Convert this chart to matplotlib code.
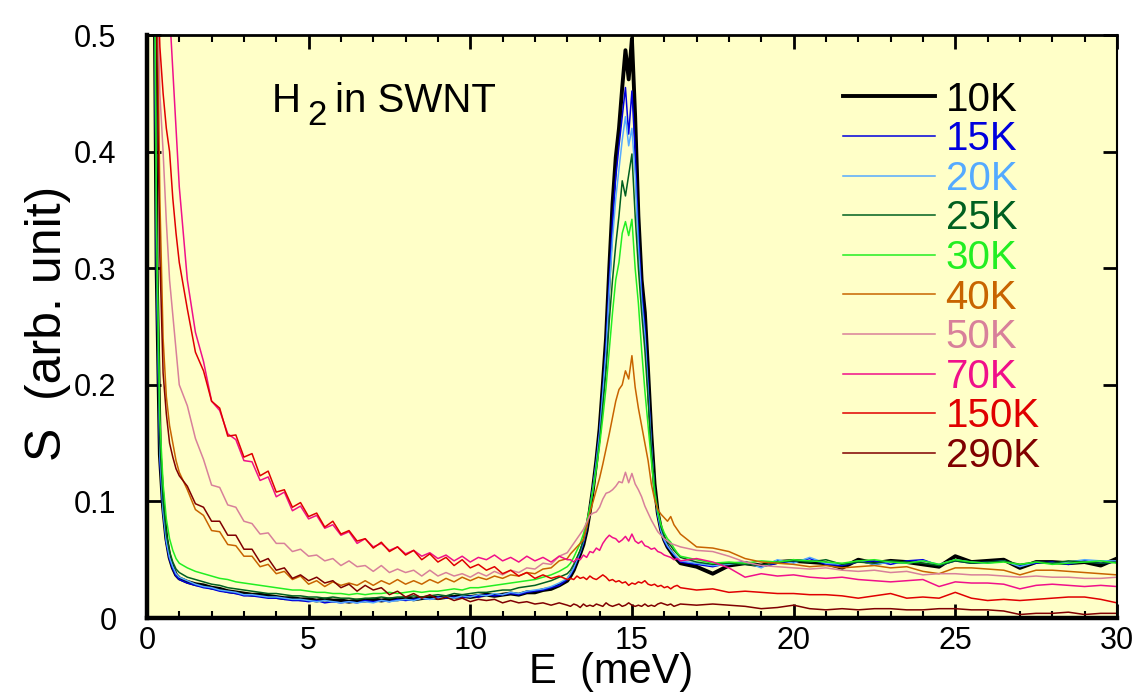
import matplotlib
matplotlib.use('Agg')
import matplotlib.pyplot as plt
from matplotlib.ticker import MultipleLocator, FuncFormatter

plt.rcParams['font.family'] = ['Liberation Sans', 'DejaVu Sans']

# energy grid (meV)
energy = [0.1, 0.2, 0.3, 0.4, 0.5, 0.6, 0.7, 0.8, 0.9, 1.0,
          1.25, 1.5, 1.75, 2.0, 2.25, 2.5, 2.75, 3.0, 3.25, 3.5, 3.75, 4.0,
          4.25, 4.5, 4.75, 5.0, 5.25, 5.5, 5.75, 6.0, 6.25, 6.5, 6.75, 7.0,
          7.25, 7.5, 7.75, 8.0, 8.25, 8.5, 8.75, 9.0, 9.25, 9.5, 9.75, 10.0,
          10.25, 10.5, 10.75, 11.0, 11.25, 11.5, 11.75, 12.0, 12.25, 12.5, 12.75, 13.0,
          13.1, 13.2, 13.3, 13.4, 13.5, 13.6, 13.7, 13.8, 13.9, 14.0,
          14.1, 14.2, 14.3, 14.4, 14.5, 14.6, 14.7, 14.8, 14.9, 15.0,
          15.1, 15.2, 15.3, 15.4, 15.5, 15.6, 15.7, 15.8, 15.9, 16.0, 16.1, 16.2, 16.3, 16.4, 16.5,
          17.0, 17.5, 18.0, 18.5, 19.0, 19.5, 20.0, 20.5, 21.0, 21.5, 22.0, 22.5, 23.0, 23.5,
          24.0, 24.5, 25.0, 25.5, 26.0, 26.5, 27.0, 27.5, 28.0, 28.5, 29.0, 29.5, 30.0]

s_10K = [1.2, 0.70, 0.30, 0.14, 0.095, 0.068, 0.052, 0.043, 0.037, 0.034,
         0.031, 0.029, 0.028, 0.026, 0.025, 0.023, 0.022, 0.021, 0.020, 0.020, 0.019, 0.018,
         0.017, 0.017, 0.016, 0.016, 0.015, 0.016, 0.015, 0.015, 0.014, 0.015, 0.015, 0.016,
         0.015, 0.016, 0.016, 0.017, 0.016, 0.017, 0.018, 0.017, 0.018, 0.018, 0.019, 0.018,
         0.019, 0.020, 0.019, 0.020, 0.021, 0.020, 0.022, 0.022, 0.024, 0.025, 0.028, 0.032,
         0.036, 0.041, 0.048, 0.055, 0.063, 0.075, 0.092, 0.112, 0.135, 0.162,
         0.200, 0.240, 0.300, 0.355, 0.395, 0.420, 0.455, 0.487, 0.462, 0.497,
         0.430, 0.345, 0.290, 0.262, 0.212, 0.158, 0.115, 0.090, 0.076, 0.067, 0.061, 0.057, 0.053, 0.050, 0.047,
         0.044, 0.038, 0.045, 0.047, 0.045, 0.048, 0.049, 0.048, 0.047, 0.043, 0.050, 0.047, 0.049, 0.048,
         0.046, 0.044, 0.053, 0.048, 0.049, 0.050, 0.043, 0.048, 0.048, 0.047, 0.048, 0.045, 0.051]

s_15K = [1.2, 0.68, 0.29, 0.135, 0.090, 0.064, 0.050, 0.042, 0.036, 0.033,
         0.030, 0.028, 0.026, 0.025, 0.023, 0.022, 0.021, 0.019, 0.019, 0.018, 0.017, 0.017,
         0.016, 0.015, 0.015, 0.014, 0.015, 0.013, 0.014, 0.013, 0.014, 0.013, 0.015, 0.014,
         0.015, 0.014, 0.016, 0.015, 0.016, 0.017, 0.016, 0.018, 0.017, 0.018, 0.017, 0.019,
         0.018, 0.020, 0.019, 0.020, 0.021, 0.020, 0.022, 0.023, 0.024, 0.026, 0.028, 0.033,
         0.037, 0.042, 0.049, 0.056, 0.064, 0.076, 0.093, 0.112, 0.134, 0.160,
         0.196, 0.235, 0.290, 0.340, 0.378, 0.405, 0.430, 0.455, 0.415, 0.452,
         0.400, 0.330, 0.280, 0.250, 0.200, 0.150, 0.110, 0.088, 0.074, 0.066, 0.061, 0.058, 0.054, 0.051, 0.048,
         0.046, 0.044, 0.047, 0.048, 0.044, 0.047, 0.048, 0.051, 0.046, 0.045, 0.048, 0.049, 0.046, 0.049,
         0.050, 0.045, 0.049, 0.047, 0.048, 0.049, 0.045, 0.047, 0.048, 0.046, 0.049, 0.047, 0.048]

s_20K = [1.2, 0.69, 0.30, 0.140, 0.092, 0.066, 0.052, 0.044, 0.038, 0.035,
         0.032, 0.029, 0.027, 0.026, 0.024, 0.023, 0.022, 0.020, 0.020, 0.019, 0.018, 0.018,
         0.017, 0.016, 0.016, 0.015, 0.014, 0.015, 0.014, 0.013, 0.014, 0.013, 0.014, 0.013,
         0.015, 0.014, 0.015, 0.016, 0.015, 0.017, 0.016, 0.017, 0.018, 0.017, 0.019, 0.018,
         0.020, 0.019, 0.021, 0.020, 0.022, 0.021, 0.023, 0.024, 0.025, 0.027, 0.030, 0.034,
         0.038, 0.043, 0.050, 0.057, 0.066, 0.078, 0.094, 0.113, 0.134, 0.158,
         0.192, 0.228, 0.280, 0.325, 0.360, 0.385, 0.410, 0.430, 0.405, 0.420,
         0.380, 0.318, 0.272, 0.242, 0.195, 0.148, 0.110, 0.089, 0.075, 0.067, 0.062, 0.058, 0.055, 0.052, 0.049,
         0.047, 0.045, 0.046, 0.048, 0.043, 0.050, 0.047, 0.052, 0.047, 0.046, 0.049, 0.046, 0.048, 0.047,
         0.049, 0.046, 0.050, 0.048, 0.047, 0.049, 0.044, 0.048, 0.047, 0.048, 0.050, 0.049, 0.049]

s_25K = [1.2, 0.70, 0.31, 0.150, 0.100, 0.072, 0.057, 0.048, 0.042, 0.039,
         0.035, 0.033, 0.031, 0.029, 0.028, 0.026, 0.025, 0.024, 0.023, 0.022, 0.021, 0.021,
         0.020, 0.019, 0.019, 0.018, 0.018, 0.017, 0.018, 0.017, 0.017, 0.016, 0.017, 0.017,
         0.018, 0.017, 0.018, 0.018, 0.019, 0.018, 0.019, 0.020, 0.019, 0.021, 0.020, 0.021,
         0.022, 0.022, 0.023, 0.024, 0.024, 0.026, 0.027, 0.028, 0.030, 0.032, 0.035, 0.038,
         0.041, 0.046, 0.052, 0.058, 0.067, 0.078, 0.093, 0.110, 0.130, 0.152,
         0.182, 0.212, 0.255, 0.290, 0.320, 0.345, 0.375, 0.362, 0.380, 0.398,
         0.345, 0.300, 0.262, 0.230, 0.188, 0.145, 0.112, 0.092, 0.078, 0.070, 0.065, 0.062, 0.058, 0.055, 0.052,
         0.048, 0.046, 0.047, 0.046, 0.045, 0.048, 0.049, 0.048, 0.050, 0.046, 0.048, 0.047, 0.049, 0.048,
         0.047, 0.045, 0.049, 0.047, 0.048, 0.049, 0.046, 0.048, 0.047, 0.049, 0.048, 0.047, 0.048]

s_30K = [1.2, 0.72, 0.33, 0.170, 0.115, 0.085, 0.068, 0.058, 0.051, 0.047,
         0.043, 0.040, 0.038, 0.036, 0.034, 0.033, 0.031, 0.030, 0.029, 0.028, 0.027, 0.026,
         0.025, 0.024, 0.024, 0.023, 0.022, 0.022, 0.021, 0.021, 0.020, 0.021, 0.020, 0.021,
         0.021, 0.022, 0.021, 0.022, 0.023, 0.022, 0.023, 0.023, 0.024, 0.025, 0.024, 0.026,
         0.026, 0.027, 0.028, 0.029, 0.030, 0.031, 0.032, 0.033, 0.035, 0.037, 0.040, 0.044,
         0.047, 0.052, 0.058, 0.064, 0.072, 0.082, 0.095, 0.110, 0.128, 0.148,
         0.172, 0.198, 0.230, 0.262, 0.290, 0.305, 0.330, 0.340, 0.328, 0.342,
         0.300, 0.270, 0.230, 0.195, 0.165, 0.135, 0.108, 0.091, 0.080, 0.073, 0.068, 0.065, 0.060, 0.056, 0.053,
         0.050, 0.047, 0.048, 0.047, 0.049, 0.048, 0.050, 0.049, 0.048, 0.047, 0.049, 0.050, 0.048, 0.047,
         0.049, 0.046, 0.050, 0.048, 0.047, 0.048, 0.046, 0.048, 0.046, 0.047, 0.048, 0.049, 0.047]

s_40K = [1.2, 0.85, 0.58, 0.36, 0.24, 0.19, 0.165, 0.150, 0.135, 0.125,
         0.110, 0.093, 0.088, 0.075, 0.074, 0.063, 0.062, 0.053, 0.053, 0.044, 0.046, 0.038,
         0.040, 0.033, 0.036, 0.029, 0.032, 0.027, 0.031, 0.028, 0.030, 0.028, 0.032, 0.028,
         0.032, 0.029, 0.033, 0.029, 0.032, 0.029, 0.033, 0.030, 0.034, 0.031, 0.035, 0.032,
         0.035, 0.033, 0.036, 0.034, 0.037, 0.036, 0.039, 0.038, 0.042, 0.043, 0.049, 0.051,
         0.055, 0.058, 0.061, 0.064, 0.067, 0.078, 0.090, 0.100, 0.110, 0.120,
         0.132, 0.145, 0.158, 0.172, 0.186, 0.196, 0.200, 0.212, 0.205, 0.225,
         0.198, 0.180, 0.165, 0.150, 0.135, 0.115, 0.102, 0.093, 0.089, 0.086, 0.083, 0.087, 0.080, 0.076, 0.072,
         0.061, 0.060, 0.057, 0.051, 0.048, 0.047, 0.046, 0.044, 0.045, 0.043, 0.044, 0.045, 0.043, 0.044,
         0.040, 0.038, 0.043, 0.043, 0.042, 0.041, 0.037, 0.041, 0.041, 0.040, 0.039, 0.038, 0.037]

s_50K = [1.2, 0.90, 0.60, 0.45, 0.40, 0.34, 0.29, 0.26, 0.23, 0.20,
         0.182, 0.154, 0.136, 0.114, 0.112, 0.097, 0.095, 0.083, 0.081, 0.072, 0.073, 0.064,
         0.064, 0.057, 0.059, 0.053, 0.054, 0.049, 0.051, 0.045, 0.049, 0.044, 0.045, 0.040,
         0.045, 0.039, 0.042, 0.039, 0.041, 0.036, 0.041, 0.036, 0.039, 0.036, 0.038, 0.035,
         0.039, 0.036, 0.040, 0.037, 0.041, 0.039, 0.043, 0.042, 0.047, 0.046, 0.053, 0.056,
         0.060, 0.064, 0.068, 0.072, 0.076, 0.082, 0.088, 0.090, 0.091, 0.095,
         0.102, 0.107, 0.108, 0.110, 0.113, 0.117, 0.116, 0.125, 0.116, 0.124,
         0.115, 0.110, 0.104, 0.096, 0.090, 0.084, 0.079, 0.074, 0.071, 0.068, 0.066, 0.064, 0.063, 0.062, 0.061,
         0.058, 0.057, 0.053, 0.048, 0.045, 0.044, 0.043, 0.042, 0.043, 0.041, 0.040, 0.041, 0.039, 0.040,
         0.037, 0.038, 0.038, 0.037, 0.037, 0.036, 0.035, 0.036, 0.035, 0.035, 0.034, 0.034, 0.035]

s_70K = [1.2, 1.0, 0.80, 0.70, 0.60, 0.56, 0.52, 0.47, 0.42, 0.37,
         0.290, 0.245, 0.220, 0.186, 0.178, 0.158, 0.153, 0.135, 0.134, 0.118, 0.121, 0.104,
         0.108, 0.092, 0.096, 0.085, 0.088, 0.077, 0.080, 0.071, 0.074, 0.064, 0.068, 0.061,
         0.064, 0.058, 0.061, 0.055, 0.058, 0.053, 0.056, 0.051, 0.054, 0.049, 0.053, 0.048,
         0.052, 0.050, 0.054, 0.049, 0.052, 0.048, 0.053, 0.049, 0.052, 0.048, 0.053, 0.050,
         0.050, 0.048, 0.051, 0.050, 0.054, 0.052, 0.057, 0.056, 0.060, 0.058,
         0.064, 0.068, 0.071, 0.069, 0.068, 0.065, 0.067, 0.070, 0.066, 0.072,
         0.066, 0.064, 0.066, 0.062, 0.061, 0.059, 0.060, 0.057, 0.056, 0.054, 0.053, 0.052, 0.050, 0.051, 0.049,
         0.051, 0.048, 0.043, 0.035, 0.038, 0.036, 0.037, 0.035, 0.034, 0.035, 0.033, 0.032, 0.031, 0.032,
         0.033, 0.027, 0.031, 0.030, 0.030, 0.029, 0.025, 0.028, 0.029, 0.028, 0.027, 0.028, 0.027]

s_150K = [1.2, 0.85, 0.58, 0.49, 0.45, 0.42, 0.40, 0.36, 0.33, 0.305,
          0.265, 0.228, 0.212, 0.186, 0.180, 0.156, 0.157, 0.138, 0.141, 0.122, 0.126, 0.108,
          0.110, 0.095, 0.099, 0.087, 0.090, 0.078, 0.083, 0.072, 0.075, 0.066, 0.068, 0.060,
          0.065, 0.057, 0.061, 0.054, 0.058, 0.050, 0.055, 0.048, 0.052, 0.045, 0.050, 0.043,
          0.046, 0.041, 0.044, 0.038, 0.041, 0.036, 0.039, 0.034, 0.037, 0.034, 0.036, 0.033,
          0.034, 0.033, 0.036, 0.034, 0.035, 0.033, 0.036, 0.034, 0.033, 0.035,
          0.037, 0.035, 0.032, 0.033, 0.031, 0.032, 0.030, 0.031, 0.028, 0.030,
          0.029, 0.031, 0.030, 0.032, 0.029, 0.028, 0.029, 0.027, 0.028, 0.026, 0.027, 0.025, 0.027, 0.028, 0.026,
          0.024, 0.025, 0.022, 0.023, 0.022, 0.021, 0.021, 0.020, 0.020, 0.019, 0.017, 0.019, 0.021, 0.017,
          0.018, 0.017, 0.022, 0.017, 0.015, 0.016, 0.015, 0.016, 0.017, 0.018, 0.018, 0.016, 0.013]

s_290K = [1.2, 0.80, 0.50, 0.31, 0.21, 0.175, 0.150, 0.138, 0.128, 0.122,
          0.113, 0.098, 0.095, 0.083, 0.083, 0.071, 0.071, 0.059, 0.059, 0.048, 0.051, 0.041,
          0.043, 0.034, 0.037, 0.032, 0.035, 0.030, 0.032, 0.026, 0.029, 0.023, 0.028, 0.024,
          0.026, 0.020, 0.023, 0.018, 0.021, 0.017, 0.020, 0.016, 0.018, 0.015, 0.017, 0.014,
          0.016, 0.015, 0.016, 0.013, 0.015, 0.013, 0.014, 0.012, 0.013, 0.011, 0.013, 0.011,
          0.010, 0.012, 0.011, 0.009, 0.012, 0.010, 0.011, 0.010, 0.012, 0.011,
          0.010, 0.013, 0.011, 0.010, 0.011, 0.012, 0.010, 0.011, 0.013, 0.011,
          0.010, 0.011, 0.010, 0.012, 0.010, 0.011, 0.010, 0.012, 0.013, 0.012, 0.011, 0.012, 0.010, 0.011, 0.012,
          0.011, 0.012, 0.011, 0.010, 0.008, 0.009, 0.011, 0.008, 0.007, 0.008, 0.007, 0.008, 0.008, 0.007,
          0.007, 0.008, 0.008, 0.007, 0.007, 0.006, 0.003, 0.004, 0.004, 0.005, 0.003, 0.004, 0.004]

temps = ['10K', '15K', '20K', '25K', '30K', '40K', '50K', '70K', '150K', '290K']
series = [s_10K, s_15K, s_20K, s_25K, s_30K, s_40K, s_50K, s_70K, s_150K, s_290K]
colours = ['black', '#0000DD', '#55AAFF', '#006020', '#22EE22',
           '#C86400', '#D8809A', '#F0108A', '#E00000', '#800000']
widths = [2.8, 1.1, 1.1, 1.1, 1.1, 1.1, 1.1, 1.1, 1.1, 1.1]

fig = plt.figure(figsize=(11.39, 6.94), dpi=100)
ax = fig.add_axes([0.129, 0.1095, 0.8516, 0.840])
ax.set_facecolor('#FFFFC8')

for t, s, c, w in zip(temps, series, colours, widths):
    ax.plot(energy, s, color=c, lw=w, label=t)

ax.set_xlim(0, 30)
ax.set_ylim(0, 0.5)
ax.xaxis.set_major_locator(MultipleLocator(5))
ax.xaxis.set_minor_locator(MultipleLocator(1))
ax.yaxis.set_major_locator(MultipleLocator(0.1))
ax.yaxis.set_major_formatter(FuncFormatter(lambda v, p: '0' if abs(v) < 1e-9 else '%.1f' % v))
ax.tick_params(which='both', direction='in', top=True, right=True)
ax.tick_params(which='major', length=10, width=2, labelsize=22)
ax.tick_params(which='minor', length=5, width=1.5)
ax.tick_params(axis='x', pad=6)
ax.tick_params(axis='y', pad=22)

ax.spines['left'].set_linewidth(3.2)
ax.spines['bottom'].set_linewidth(3.2)
ax.spines['top'].set_linewidth(2)
ax.spines['right'].set_linewidth(1.5)

ax.set_xlabel('E  (meV)', fontsize=30, labelpad=-3, x=0.479)
ax.set_ylabel('S  (arb. unit)', fontsize=36, labelpad=2, y=0.505)

# title with lowered subscript
ax.text(0.129, 0.868, 'H', transform=ax.transAxes, fontsize=29, va='baseline')
ax.text(0.165, 0.845, '2', transform=ax.transAxes, fontsize=25, va='baseline')
ax.text(0.194, 0.868, 'in SWNT', transform=ax.transAxes, fontsize=29, va='baseline')

ax.legend(loc='upper left', bbox_to_anchor=(0.7175, 0.922), frameon=False,
          fontsize=29, handlelength=2.28, handletextpad=0.27, labelspacing=0.04,
          borderpad=0, borderaxespad=0, labelcolor='linecolor')

fig.savefig('out.png', dpi=100, facecolor='white')
